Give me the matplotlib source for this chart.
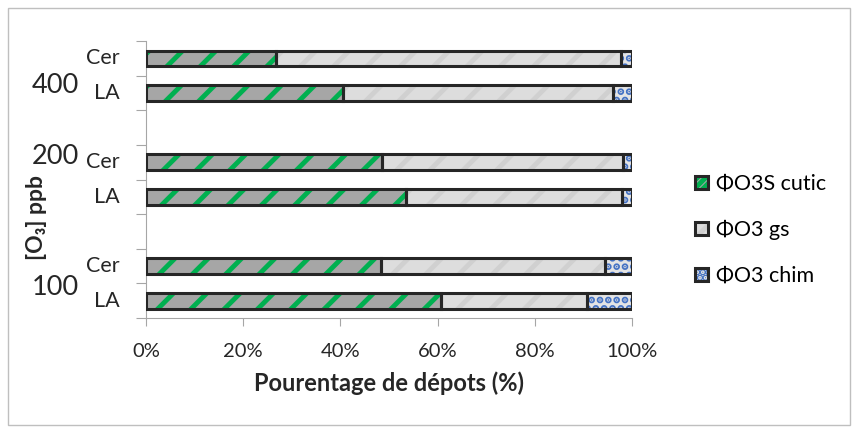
import matplotlib
matplotlib.use("Agg")
import matplotlib.pyplot as plt
from matplotlib.patches import Patch, Rectangle
from matplotlib.legend_handler import HandlerTuple

plt.rcParams['font.family'] = ['Lato', 'DejaVu Sans']
plt.rcParams['hatch.linewidth'] = 3.5

# data (percent of deposition), bottom to top
concs = ['100', '200', '400']
species = ['LA', 'Cer']
cutic = [60.8, 48.3, 53.5, 48.5, 40.5, 26.7]   # LA-100, Cer-100, LA-200, Cer-200, LA-400, Cer-400
gs = [29.9, 46.1, 44.4, 49.6, 55.5, 71.0]
chim = [9.3, 5.6, 2.1, 1.9, 4.0, 2.3]
row_labels = ['LA', 'Cer', 'LA', 'Cer', 'LA', 'Cer']
slots = [0, 1, 3, 4, 6, 7]
group_label_y = [0.87, 4.68, 6.73]
series_names = ['ΦO3S cutic', 'ΦO3 gs', 'ΦO3 chim']

fig = plt.figure(figsize=(8.58, 4.34), dpi=100)
fig.patches.append(Rectangle((0.009, 0.02), 0.982, 0.962, transform=fig.transFigure,
                             fill=False, edgecolor='#BFBFBF', linewidth=1))
ax = fig.add_axes([0.170, 0.267, 0.5666, 0.6385])

y = [s + 0.5 for s in slots]
h = 0.45
styles = [
    dict(face='#A6A6A6', hatch='/', lhatch='////', hcol='#00B050'),
    dict(face='#DDDDDD', hatch='/', lhatch='/', hcol='#D0D0D0'),
    dict(face='#E4E4E4', hatch='..', lhatch='...', hcol='#4472C4'),
]
left = [0] * len(y)
handles = []
for vals, st in zip([cutic, gs, chim], styles):
    ax.barh(y, vals, height=h, left=left, color=st['face'], hatch=st['hatch'],
            edgecolor=st['hcol'], linewidth=0, zorder=2)
    ax.barh(y, vals, height=h, left=left, color='none', edgecolor='#262626',
            linewidth=2.2, zorder=3)
    left = [l + v for l, v in zip(left, vals)]
    hp = Patch(facecolor=st['face'], hatch=st['lhatch'], edgecolor=st['hcol'], linewidth=0)
    handles.append((hp, Patch(facecolor='none', edgecolor='#262626', linewidth=2.2)))

ax.set_xlim(0, 100)
ax.set_ylim(0, 8)
ax.set_xticks([0, 20, 40, 60, 80, 100])
ax.set_xticklabels([f'{v}%' for v in [0, 20, 40, 60, 80, 100]], fontsize=14.5, color='#262626')
ax.set_yticks(range(9))
ax.set_yticklabels([])
ax.tick_params(axis='both', direction='out', length=6, color='#A6A6A6', pad=12)
ax.tick_params(axis='y', length=7)
for s in ['top', 'right']:
    ax.spines[s].set_visible(False)
for s in ['left', 'bottom']:
    ax.spines[s].set_color('#A6A6A6')

for yy, lab in zip(y, row_labels):
    ax.text(-0.053, yy, lab, transform=ax.get_yaxis_transform(), ha='right', va='center',
            fontsize=15.5, color='#262626')
for yy, lab in zip(group_label_y, concs):
    ax.text(-0.187, yy, lab, transform=ax.get_yaxis_transform(), ha='center', va='center',
            fontsize=19.5, color='#262626')

ax.set_xlabel('Pourentage de dépots (%)', fontsize=17, fontweight='bold', color='#262626', labelpad=8)
fig.text(0.043, 0.50, '[O₃] ppb', rotation=90, ha='center', va='center',
         fontsize=16.5, fontweight='bold', color='#262626')

fig.legend(handles, series_names, loc='center left', bbox_to_anchor=(0.787, 0.47),
           frameon=False, fontsize=15.5, handlelength=0.6, handleheight=0.6,
           handletextpad=0.4, labelspacing=1.2,
           handler_map={tuple: HandlerTuple(ndivide=1, pad=0)})

fig.savefig('out.png', dpi=100)
